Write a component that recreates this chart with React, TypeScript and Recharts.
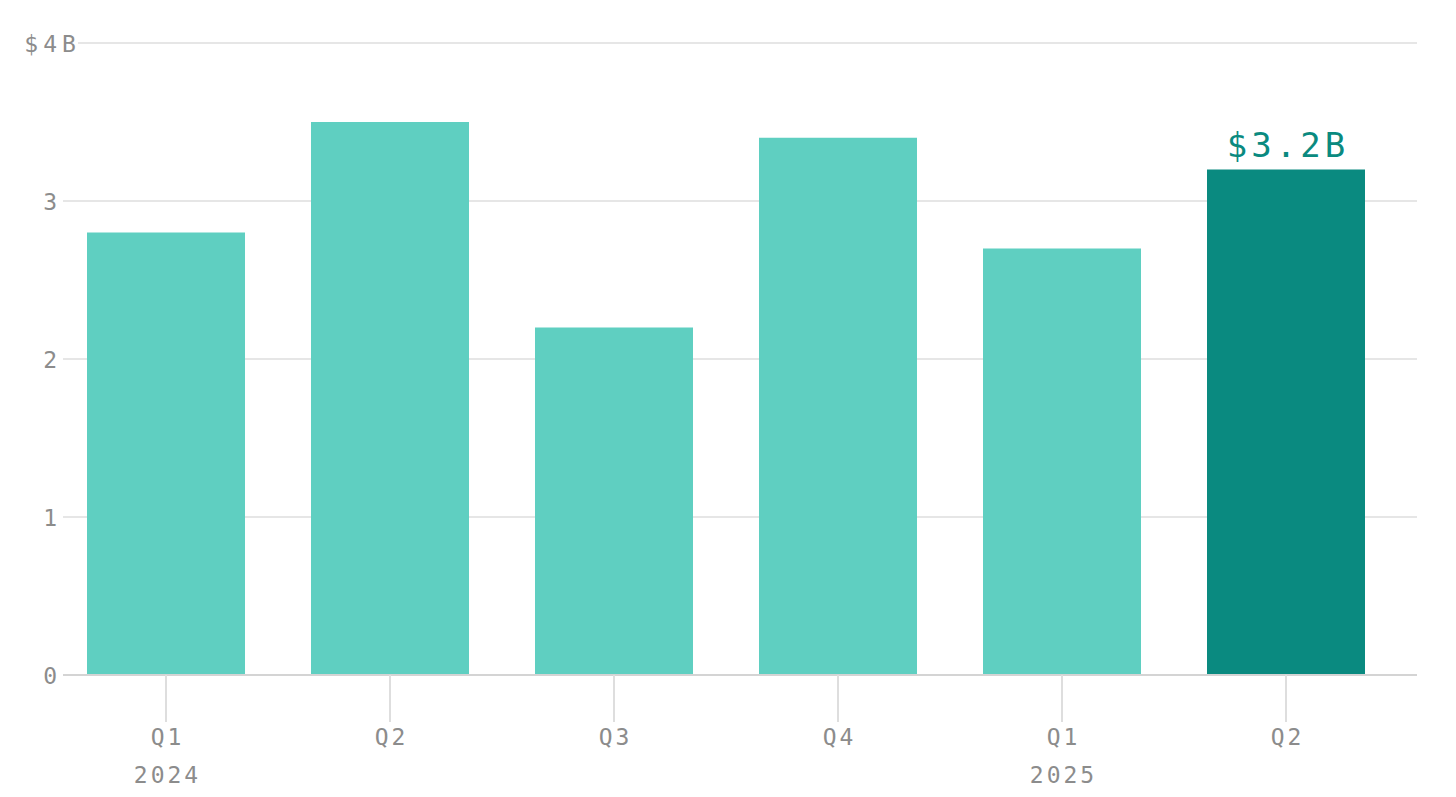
import { BarChart, Bar, XAxis, YAxis, CartesianGrid, Cell, LabelList } from "recharts";

const quarters = ["Q1", "Q2", "Q3", "Q4", "Q1", "Q2"];
const years = ["2024", "", "", "", "2025", ""];
const revenue = [2.8, 3.5, 2.2, 3.4, 2.7, 3.2];
const yTicks = [0, 1, 2, 3, 4];

const data = quarters.map((q, i) => ({ key: `${q}-${i}`, quarter: q, year: years[i], value: revenue[i] }));

const FONT = "'DejaVu Sans Mono', monospace";
const GREY = "#8c8c8c";
const LIGHT = "#5fcfc1";
const DARK = "#0a8a80";

function YTick(props: any) {
  const { x, y, payload } = props;
  const v = payload.value;
  const right = x + 2;
  const style = { fontFamily: FONT, fontSize: 23, fill: GREY };
  if (v === 4) {
    return (
      <g>
        <rect x={x + 6} y={y - 4} width={17} height={8} fill="#fff" />
        <text x={right - 19} y={y + 8.5} textAnchor="end" style={style}>$</text>
        <text x={right} y={y + 8.5} textAnchor="end" style={style}>{v}</text>
        <text x={right + 5} y={y + 8.5} textAnchor="start" style={style}>B</text>
      </g>
    );
  }
  return (
    <text x={right} y={y + 8.5} textAnchor="end" style={style}>{v}</text>
  );
}

function XTick(props: any) {
  const { x, y, payload, index } = props;
  const style = { fontFamily: FONT, fontSize: 23, fill: GREY, letterSpacing: 3 };
  return (
    <g>
      <line x1={x} x2={x} y1={y - 8} y2={y + 39} stroke="#dedede" strokeWidth={2} />
      <text x={x + 1.5} y={y + 62} textAnchor="middle" style={style}>{payload.value}</text>
      {years[index] ? (
        <text x={x + 1.5} y={y + 100} textAnchor="middle" style={style}>{years[index]}</text>
      ) : null}
    </g>
  );
}

function TopLabel(props: any) {
  const { x, y, width, index, value } = props;
  if (index !== revenue.length - 1) return null;
  return (
    <text x={x + width / 2 + 2} y={y - 12} textAnchor="middle"
      style={{ fontFamily: FONT, fontSize: 34, fill: DARK, letterSpacing: 4 }}>
      {`$${value}B`}
    </text>
  );
}

export default function App() {
  return (
    <div style={{ position: "absolute", left: 0, top: 0, background: "#fff" }}>
      <BarChart
        width={1456}
        height={797}
        data={data}
        margin={{ top: 43, right: 39, bottom: 0, left: 0 }}
        barSize={158}
      >
        <CartesianGrid vertical={false} stroke="#e6e6e6" strokeWidth={2} />
        <XAxis
          dataKey="key"
          tick={(p: any) => <XTick {...p} payload={{ value: quarters[p.index] }} />}
          tickLine={false}
          axisLine={{ stroke: "#d4d4d4", strokeWidth: 2 }}
          height={122}
          padding={{ left: -9, right: 19 }}
          interval={0}
        />
        <YAxis
          width={63}
          domain={[0, 4]}
          ticks={yTicks}
          tick={<YTick />}
          tickLine={false}
          axisLine={false}
        />
        <Bar dataKey="value" isAnimationActive={false}>
          {data.map((d, i) => (
            <Cell key={d.key} fill={i === data.length - 1 ? DARK : LIGHT} />
          ))}
          <LabelList dataKey="value" content={<TopLabel />} />
        </Bar>
      </BarChart>
    </div>
  );
}
